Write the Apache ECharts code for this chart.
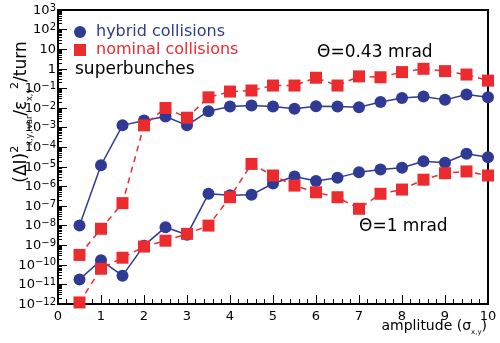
<!DOCTYPE html>
<html>
<head>
<meta charset="utf-8">
<script src="https://cdn.jsdelivr.net/npm/echarts@6/dist/echarts.min.js"></script>
<style>
  html, body { margin: 0; padding: 0; background: #fff; }
  #chart { width: 500px; height: 343px; }
</style>
</head>
<body>
<div id="chart"></div>
<script>
// amplitude in units of sigma
var amplitude = [0.5, 1, 1.5, 2, 2.5, 3, 3.5, 4, 4.5, 5, 5.5, 6, 6.5, 7, 7.5, 8, 8.5, 9, 9.5, 10];

// theta = 0.43 mrad
var hybrid043 = [1e-8, 1.2e-5, 1.3e-3, 2.3e-3, 3.7e-3, 1.3e-3, 6.9e-3, 1.2e-2, 1.35e-2, 1.2e-2,
  9.1e-3, 1.23e-2, 1.2e-2, 1.1e-2, 2.0e-2, 3.2e-2, 3.9e-2, 2.6e-2, 4.9e-2, 3.5e-2];
var nominal043 = [3.2e-10, 6.9e-9, 1.4e-7, 1.3e-3, 1.0e-2, 3.2e-3, 3.5e-2, 6.9e-2, 7.8e-2, 0.14,
  0.14, 0.35, 0.14, 0.41, 0.37, 0.68, 1.0, 0.76, 0.51, 0.25];

// theta = 1 mrad
var hybrid1 = [1.8e-11, 1.7e-10, 2.8e-11, 9.5e-10, 8.3e-9, 3.4e-9, 4.2e-7, 3.5e-7, 3.7e-7, 1.4e-6,
  3.2e-6, 1.9e-6, 2.8e-6, 5.2e-6, 7.2e-6, 8.9e-6, 1.9e-5, 1.6e-5, 4.6e-5, 3.1e-5];
var nominal1 = [1.2e-12, 6.3e-11, 2.3e-10, 8.5e-10, 1.7e-9, 3.8e-9, 1e-8, 2.8e-7, 1.4e-5, 3.6e-6,
  1.1e-6, 5e-7, 2.8e-7, 7.2e-8, 4.2e-7, 6.9e-7, 2.2e-6, 4.7e-6, 5.8e-6, 3.6e-6];

var xTicks = [0, 1, 2, 3, 4, 5, 6, 7, 8, 9, 10];
var yExponents = [-12, -11, -10, -9, -8, -7, -6, -5, -4, -3, -2, -1, 0, 1, 2, 3];

var blue = '#2e3a93';
var red = '#ec2b2f';
var font = 'DejaVu Sans';

// decade ticks and 2..9 minor ticks for the log axis
var yMajor = yExponents.map(function (e) { return Math.pow(10, e); });
var yMinor = [];
yExponents.slice(0, -1).forEach(function (e) {
  for (var k = 2; k <= 9; k++) yMinor.push(k * Math.pow(10, e));
});

function pairs(ys) {
  return amplitude.map(function (x, i) { return [x, ys[i]]; });
}

function hybrid(ys) {
  return {
    name: 'hybrid collisions', type: 'line', data: pairs(ys),
    symbol: 'circle', symbolSize: 12,
    itemStyle: { color: blue },
    lineStyle: { color: blue, width: 1.5 }
  };
}
function nominal(ys) {
  return {
    name: 'nominal collisions', type: 'line', data: pairs(ys),
    symbol: 'rect', symbolSize: 12,
    itemStyle: { color: red },
    lineStyle: { color: red, width: 1.5, type: [6, 5] }
  };
}

var chart = echarts.init(document.getElementById('chart'));
chart.setOption({
  animation: false,
  textStyle: { fontFamily: font },
  grid: { left: 58, right: 12, top: 10, bottom: 39, show: true, borderColor: '#000', borderWidth: 2, backgroundColor: 'transparent' },
  legend: {
    orient: 'vertical', left: 69, top: 19, itemWidth: 12, itemHeight: 12, itemGap: 2,
    textStyle: { fontSize: 16, fontFamily: font, padding: [0, 0, 0, 5] },
    data: [
      { name: 'hybrid collisions', icon: 'circle', textStyle: { color: blue } },
      { name: 'nominal collisions', icon: 'rect', textStyle: { color: red } }
    ]
  },
  xAxis: {
    type: 'value', min: 0, max: 10, interval: 1,
    axisLine: { lineStyle: { color: '#000', width: 2 } },
    axisTick: { inside: true, length: 9, lineStyle: { color: '#000' } },
    minorTick: { show: true, splitNumber: 5, length: 5, lineStyle: { color: '#000' } },
    splitLine: { show: false },
    axisLabel: {
      color: '#000', fontSize: 13, margin: 6, fontFamily: font,
      formatter: function (v) { return xTicks.indexOf(v) >= 0 ? String(v) : ''; }
    }
  },
  yAxis: [{
    type: 'log', logBase: 10, min: 1e-12, max: 1e3,
    axisLine: { lineStyle: { color: '#000', width: 2 } },
    axisTick: { inside: true, length: 9, customValues: yMajor, lineStyle: { color: '#000' } },
    splitLine: { show: false },
    axisLabel: {
      color: '#000', margin: 2, customValues: yMajor,
      showMinLabel: true, showMaxLabel: true, hideOverlap: false,
      formatter: function (v) {
        var e = Math.round(Math.log10(v));
        if (e === 0) return '{b|1}';
        if (e === 1) return '{b|10}';
        return '{b|10}{e|' + String(e).replace('-', '\u2212') + '}';
      },
      rich: {
        b: { fontSize: 13, lineHeight: 14, verticalAlign: 'bottom', color: '#000', fontFamily: font },
        e: { fontSize: 10, lineHeight: 11, verticalAlign: 'top', color: '#000', fontFamily: font }
      }
    }
  }, {
    type: 'log', logBase: 10, min: 1e-12, max: 1e3, position: 'left',
    axisLine: { show: false },
    axisTick: { inside: true, length: 4, customValues: yMinor, lineStyle: { color: '#000' } },
    axisLabel: { show: false },
    splitLine: { show: false }
  }],
  graphic: [
    { type: 'text', left: 75, top: 61, style: { text: 'superbunches', fontSize: 17, fill: '#000', fontFamily: font } },
    { type: 'text', left: 317, top: 44, style: { text: 'Θ=0.43 mrad', fontSize: 17, fill: '#000', fontFamily: font } },
    { type: 'text', left: 359, top: 218, style: { text: 'Θ=1 mrad', fontSize: 17, fill: '#000', fontFamily: font } },
    {
      type: 'text', right: 13, top: 319,
      style: {
        text: '{n|amplitude (σ}{s|x,y}{n|)}', fill: '#000', fontFamily: font,
        rich: {
          n: { fontSize: 14, lineHeight: 17, verticalAlign: 'top', fontFamily: font },
          s: { fontSize: 7, lineHeight: 17, verticalAlign: 'bottom', fontFamily: font }
        }
      }
    },
    {
      type: 'text', x: 22, y: 112, rotation: Math.PI / 2,
      style: {
        text: '{n|(ΔI)}{p|2}{s|x,y, var}{n|/ε}{s|x,y}{p|2}{n|/turn}',
        align: 'center', verticalAlign: 'middle', fill: '#000', fontFamily: font,
        rich: {
          n: { fontSize: 17, lineHeight: 24, verticalAlign: 'middle', fontFamily: font },
          p: { fontSize: 11, lineHeight: 24, verticalAlign: 'top', fontFamily: font },
          s: { fontSize: 8, lineHeight: 24, verticalAlign: 'bottom', fontFamily: font }
        }
      }
    }
  ],
  series: [hybrid(hybrid043), nominal(nominal043), hybrid(hybrid1), nominal(nominal1)]
});
</script>
</body>
</html>
